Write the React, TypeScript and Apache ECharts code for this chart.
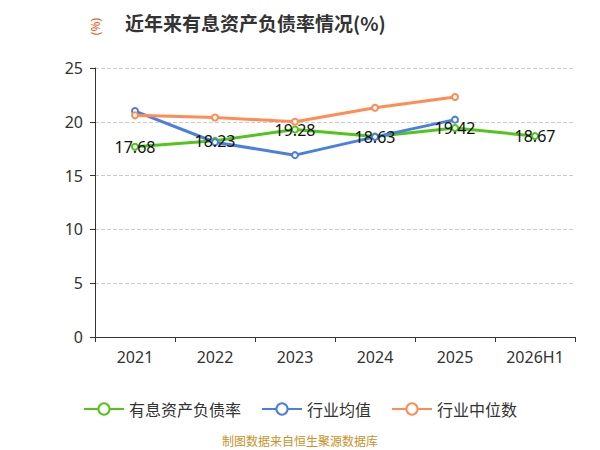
import React, { useEffect, useRef } from 'react';
import * as echarts from 'echarts';

const years = ['2021', '2022', '2023', '2024', '2025', '2026H1'];
const debtRatio = [17.68, 18.23, 19.28, 18.63, 19.42, 18.67];
const industryAvg = [21.0, 18.1, 16.9, 18.6, 20.2, null];
const industryMedian = [20.6, 20.4, 20.0, 21.3, 22.3, null];

const App: React.FC = () => {
  const chartRef = useRef<HTMLDivElement>(null);

  useEffect(() => {
    const chart = echarts.init(chartRef.current!, null, { renderer: 'svg' });
    const line = (name: string, data: (number | null)[], color: string, label = false) => ({
      name,
      type: 'line',
      data,
      symbol: 'emptyCircle',
      symbolSize: 6,
      itemStyle: { color, borderColor: color, borderWidth: 1.5 },
      lineStyle: { color, width: 3 },
      label: label ? { show: true, position: 'inside', color: '#111', fontSize: 16 } : { show: false },
      emphasis: { disabled: true },
    });
    chart.setOption({
      animation: false,
      textStyle: { fontFamily: 'Noto Sans, sans-serif' },
      title: {
        text: '近年来有息资产负债率情况(%)',
        left: 112,
        top: 0,
        textStyle: { fontSize: 19, fontWeight: 'bold', color: '#333', fontFamily: 'Noto Sans CJK SC' },
      },
      grid: { left: 87, right: 17, top: 60, bottom: 113 },
      legend: {
        bottom: 28,
        itemWidth: 40,
        itemHeight: 14,
        itemGap: 20,
        textStyle: { fontSize: 16, color: '#333', fontFamily: 'Noto Sans CJK SC' },
        data: ['有息资产负债率', '行业均值', '行业中位数'],
      },
      xAxis: {
        type: 'category',
        data: years,
        axisLine: { lineStyle: { color: '#333' } },
        axisTick: { show: true },
        axisLabel: { fontSize: 16, color: '#333', margin: 12 },
      },
      yAxis: {
        type: 'value',
        min: 0,
        max: 25,
        interval: 5,
        name: '(%)',
        nameLocation: 'end',
        nameRotate: 90,
        nameGap: 50,
        nameTextStyle: { color: '#e05a1a', fontSize: 12, align: 'right', verticalAlign: 'middle' },
        axisLine: { show: true, lineStyle: { color: '#333' } },
        axisTick: { show: true },
        axisLabel: { fontSize: 16, color: '#333', margin: 12 },
        splitLine: { lineStyle: { type: 'dashed', color: '#ccc' } },
      },
      series: [
        line('有息资产负债率', debtRatio, '#52c41a', true),
        line('行业均值', industryAvg, '#4a7fe0'),
        line('行业中位数', industryMedian, '#ff8c55'),
      ],
      graphic: [
        {
          type: 'text',
          left: 'center',
          top: 426,
          style: { text: '制图数据来自恒生聚源数据库', fill: '#c8922a', fontSize: 12, fontFamily: 'Noto Sans CJK SC' },
        },
      ],
    });
    return () => chart.dispose();
  }, []);

  return <div ref={chartRef} style={{ width: 584, height: 442 }} />;
};

export default App;
